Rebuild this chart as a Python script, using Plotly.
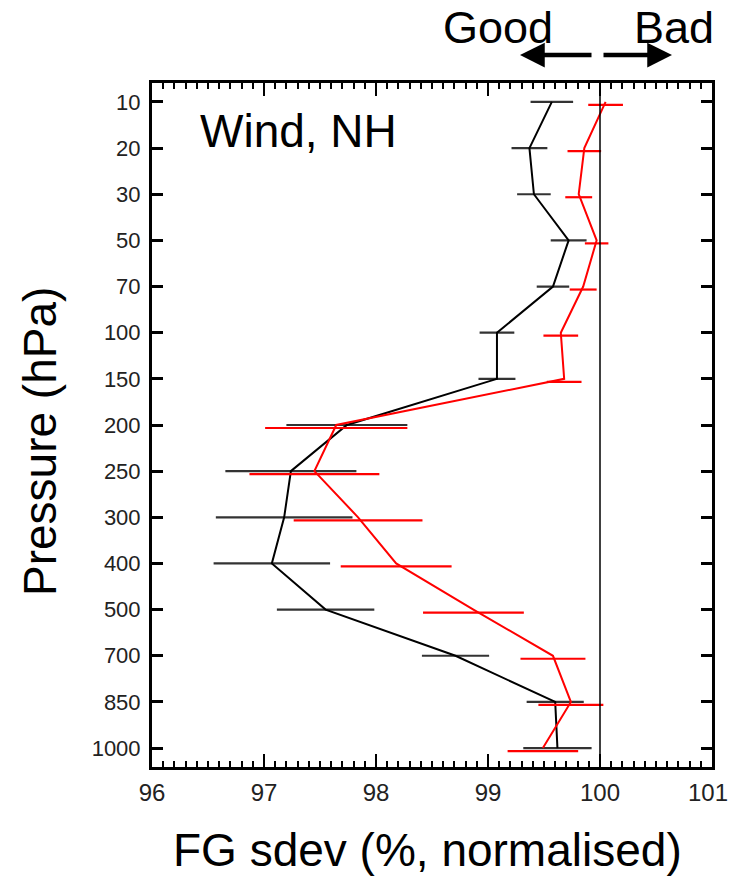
import plotly.graph_objects as go

# Pressure levels (hPa), top of the profile first
levels = ["10", "20", "30", "50", "70", "100", "150", "200",
          "250", "300", "400", "500", "700", "850", "1000"]

# First-guess standard deviation, normalised to the control (%)
black_mean = [99.57, 99.37, 99.41, 99.72, 99.58, 99.08, 99.08, 97.74,
              97.24, 97.18, 97.07, 97.55, 98.71, 99.60, 99.62]
black_err = [0.19, 0.16, 0.15, 0.16, 0.145, 0.155, 0.165, 0.54,
             0.585, 0.61, 0.52, 0.435, 0.30, 0.255, 0.305]

red_mean = [100.05, 99.86, 99.81, 99.97, 99.85, 99.65, 99.68, 97.645,
            97.45, 97.84, 98.18, 98.87, 99.58, 99.74, 99.49]
red_err = [0.155, 0.15, 0.12, 0.105, 0.12, 0.155, 0.155, 0.635,
           0.58, 0.575, 0.495, 0.45, 0.29, 0.29, 0.315]

x_ticks = [96, 97, 98, 99, 100, 101]

idx = list(range(len(levels)))
red_bar_shift = 0.065  # red error bars sit just below their level

FONT = "Liberation Sans, Arial, Helvetica, sans-serif"

fig = go.Figure()

# black profile with error bars
fig.add_trace(go.Scatter(
    x=black_mean, y=idx, mode="lines",
    line=dict(color="black", width=2),
    error_x=dict(type="data", array=black_err, visible=True,
                 color="#333333", thickness=2.2, width=0),
    showlegend=False, hoverinfo="skip"))

# red profile line
fig.add_trace(go.Scatter(
    x=red_mean, y=idx, mode="lines",
    line=dict(color="#ff0000", width=2),
    showlegend=False, hoverinfo="skip"))

# red error bars
fig.add_trace(go.Scatter(
    x=red_mean, y=[i + red_bar_shift for i in idx], mode="markers",
    marker=dict(size=0.1, color="rgba(0,0,0,0)"),
    error_x=dict(type="data", array=red_err, visible=True,
                 color="#ff0000", thickness=2.2, width=0),
    showlegend=False, hoverinfo="skip"))

# reference line at 100 %
fig.add_shape(type="line", xref="x", yref="paper", x0=100, x1=100, y0=0, y1=1,
              line=dict(color="black", width=1.5))

# the last label sits at the right edge of the page, so it is drawn
# separately, right-aligned to stay inside the page
x_text = [str(v) for v in x_ticks]
last_label = x_text[-1]
x_text[-1] = ""

fig.update_xaxes(
    range=[96, 101], tickvals=x_ticks, ticktext=x_text,
    ticks="inside", ticklen=13, tickwidth=2, tickcolor="black",
    showline=True, linewidth=3, linecolor="black", mirror="ticks",
    minor=dict(ticks="inside", dtick=0.1, ticklen=6, tickwidth=2,
               tickcolor="black", showgrid=False),
    showgrid=False, zeroline=False, automargin=False,
    tickfont=dict(family=FONT, size=24, color="#222222"),
    ticklabelstandoff=2)

fig.update_yaxes(
    range=[14.41, -0.41], tickvals=idx, ticktext=levels,
    ticks="inside", ticklen=11, tickwidth=3, tickcolor="black",
    showline=True, linewidth=3, linecolor="black", mirror="ticks",
    showgrid=False, zeroline=False, automargin=False,
    tickfont=dict(family=FONT, size=22, color="#222222"),
    ticklabelstandoff=4)

W0, W1, H0, H1 = 152, 712, 83, 767
def px(x):
    return (x - W0) / (W1 - W0)
def py(y):
    return (H1 - y) / (H1 - H0)

annotations = [
    dict(text="Wind, NH", x=px(198), y=py(131), xanchor="left", yanchor="middle",
         showarrow=False, font=dict(family=FONT, size=46, color="black")),
    dict(text="Good", x=px(498), y=py(28), xanchor="center", yanchor="middle",
         showarrow=False, font=dict(family=FONT, size=45, color="black")),
    dict(text="Bad", x=px(674), y=py(28), xanchor="center", yanchor="middle",
         showarrow=False, font=dict(family=FONT, size=45, color="black")),
    dict(text="Pressure (hPa)", x=px(40), y=py(442), xanchor="center", yanchor="middle",
         textangle=-90, showarrow=False, font=dict(family=FONT, size=46, color="black")),
    dict(text="FG sdev (%, normalised)", x=px(427), y=py(850), xanchor="center",
         yanchor="middle", showarrow=False, font=dict(family=FONT, size=46, color="black")),
    dict(text=last_label, x=px(729), y=py(792), xanchor="right", yanchor="middle",
         showarrow=False, borderpad=0,
         font=dict(family=FONT, size=24, color="#222222")),
    # direction arrows
    dict(text="", x=px(520), y=py(55), ax=73, ay=0, showarrow=True,
         arrowhead=2, arrowsize=1.1, arrowwidth=4.5, arrowcolor="black"),
    dict(text="", x=px(672), y=py(55), ax=-70, ay=0, showarrow=True,
         arrowhead=2, arrowsize=1.1, arrowwidth=4.5, arrowcolor="black"),
]
for a in annotations:
    a.setdefault("xref", "paper")
    a.setdefault("yref", "paper")
fig.update_layout(annotations=annotations)

fig.update_layout(
    width=730, height=876,
    margin=dict(l=W0, r=730 - W1, t=H0, b=876 - H1, pad=0, autoexpand=False),
    plot_bgcolor="white", paper_bgcolor="white",
    showlegend=False)

fig.write_html("out.html")
